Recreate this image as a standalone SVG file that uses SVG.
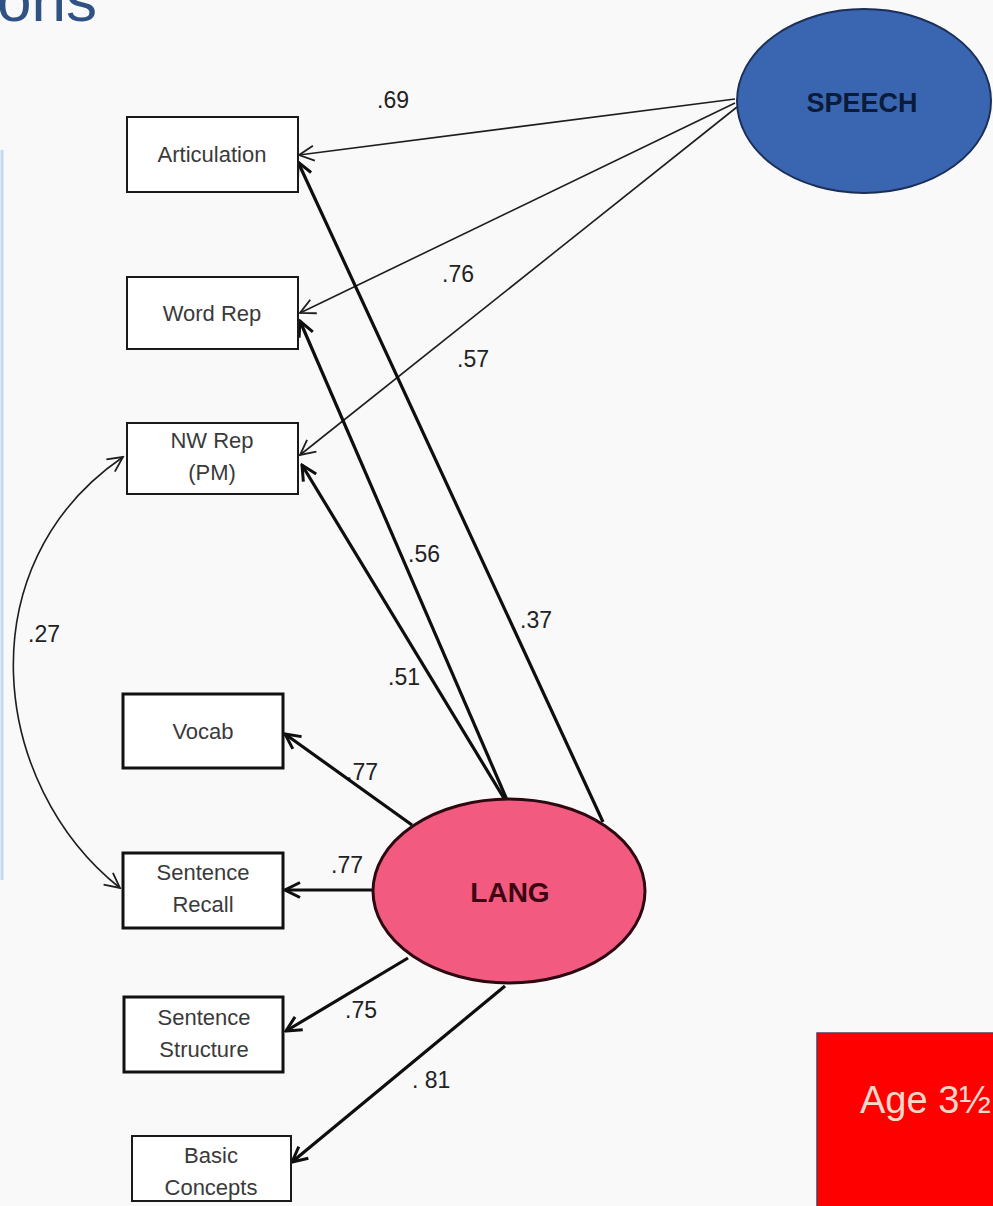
<svg xmlns="http://www.w3.org/2000/svg" width="993" height="1206" viewBox="0 0 993 1206">
  <style>
    .box { fill: #ffffff; stroke: #1a1a1a; stroke-width: 2; }
    .boxb { fill: #ffffff; stroke: #111111; stroke-width: 3; }
    .btxt { font-family: "Liberation Sans", Arial, sans-serif; font-size: 22px; fill: #3a3a3a; text-anchor: middle; }
    .lbl { font-family: "Liberation Sans", Arial, sans-serif; font-size: 23px; fill: #222222; }
    .thin { fill: none; stroke: #1e1e1e; stroke-width: 1.6; }
    .thick { fill: none; stroke: #0e0e0e; stroke-width: 3.2; }
  </style>
  <defs>
    <marker id="arrThin" markerUnits="userSpaceOnUse" viewBox="-18 -10 20 20" refX="0" refY="0" markerWidth="20" markerHeight="20" orient="auto-start-reverse">
      <path d="M -15 -7.5 L 0 0 L -15 7.5" fill="none" stroke="#1e1e1e" stroke-width="1.8"/>
    </marker>
    <marker id="arrThick" markerUnits="userSpaceOnUse" viewBox="-18 -10 20 20" refX="0" refY="0" markerWidth="20" markerHeight="20" orient="auto">
      <path d="M -15 -7.5 L 0 0 L -15 7.5" fill="none" stroke="#0e0e0e" stroke-width="3"/>
    </marker>
  </defs>

  <rect x="0" y="0" width="993" height="1206" fill="#f9f9f9"/>

  <g id="title">
    <text x="-3" y="21" font-family="'Liberation Sans', Arial, sans-serif" font-size="62" fill="#2f5183">ons</text>
  </g>
  <line x1="2" y1="150" x2="2" y2="880" stroke="#c4d8f0" stroke-width="3"/>

  <g id="labels">
    <text class="lbl" x="377" y="108">.69</text>
    <text class="lbl" x="442" y="282">.76</text>
    <text class="lbl" x="457" y="367">.57</text>
    <text class="lbl" x="408" y="562">.56</text>
    <text class="lbl" x="520" y="628">.37</text>
    <text class="lbl" x="388" y="685">.51</text>
    <text class="lbl" x="346" y="780">.77</text>
    <text class="lbl" x="331" y="873">.77</text>
    <text class="lbl" x="345" y="1018">.75</text>
    <text class="lbl" x="412" y="1088">. 81</text>
    <text class="lbl" x="28" y="642">.27</text>
  </g>

  <g id="connectors">
    <path class="thin" d="M 735 99 L 299 155" marker-end="url(#arrThin)"/>
    <path class="thin" d="M 735 103 L 300 313" marker-end="url(#arrThin)"/>
    <path class="thin" d="M 737 107 L 300 455" marker-end="url(#arrThin)"/>
    <path class="thick" d="M 603 822 L 298 162" marker-end="url(#arrThick)"/>
    <path class="thick" d="M 507 800 L 300 321" marker-end="url(#arrThick)"/>
    <path class="thick" d="M 505 800 L 302 465" marker-end="url(#arrThick)"/>
    <path class="thick" d="M 412 825 L 285 734" marker-end="url(#arrThick)"/>
    <path class="thick" d="M 374 890 L 285 890" marker-end="url(#arrThick)"/>
    <path class="thick" d="M 408 958 L 286 1031" marker-end="url(#arrThick)"/>
    <path class="thick" d="M 505 986 L 292 1162" marker-end="url(#arrThick)"/>
    <path class="thin" d="M 123 457 C -35 565 -10 785 120 888" marker-start="url(#arrThin)" marker-end="url(#arrThin)"/>
  </g>

  <g id="node-articulation">
    <rect class="box" x="127" y="117" width="171" height="75"/>
    <text class="btxt" x="212" y="162">Articulation</text>
  </g>
  <g id="node-wordrep">
    <rect class="box" x="127" y="277" width="171" height="72"/>
    <text class="btxt" x="212" y="321">Word Rep</text>
  </g>
  <g id="node-nwrep">
    <rect class="box" x="127" y="423" width="171" height="71"/>
    <text class="btxt" x="212" y="448">NW Rep</text>
    <text class="btxt" x="212" y="480">(PM)</text>
  </g>
  <g id="node-vocab">
    <rect class="boxb" x="123" y="694" width="160" height="74"/>
    <text class="btxt" x="203" y="739">Vocab</text>
  </g>
  <g id="node-sentrecall">
    <rect class="boxb" x="123" y="853" width="160" height="75"/>
    <text class="btxt" x="203" y="880">Sentence</text>
    <text class="btxt" x="203" y="912">Recall</text>
  </g>
  <g id="node-sentstruct">
    <rect class="boxb" x="124" y="997" width="159" height="75"/>
    <text class="btxt" x="204" y="1025">Sentence</text>
    <text class="btxt" x="204" y="1057">Structure</text>
  </g>
  <g id="node-basic">
    <rect class="box" x="132" y="1136" width="159" height="65"/>
    <text class="btxt" x="211" y="1163">Basic</text>
    <text class="btxt" x="211" y="1195">Concepts</text>
  </g>

  <g id="node-speech">
    <ellipse cx="864" cy="101" rx="127" ry="92" fill="#3a66b1" stroke="#1b2f57" stroke-width="2"/>
    <text x="862" y="112" font-family="'Liberation Sans', Arial, sans-serif" font-size="27" font-weight="bold" fill="#0b1b3a" text-anchor="middle">SPEECH</text>
  </g>
  <g id="node-lang">
    <ellipse cx="509" cy="891" rx="136" ry="92" fill="#f25a80" stroke="#2e0810" stroke-width="3"/>
    <text x="510" y="902" font-family="'Liberation Sans', Arial, sans-serif" font-size="28" font-weight="bold" fill="#3d0512" text-anchor="middle">LANG</text>
  </g>

  <g id="age-box">
    <rect x="817" y="1033" width="180" height="180" fill="#fe0000" stroke="#5a3a55" stroke-width="1.5"/>
    <text x="860" y="1113" font-family="'Liberation Sans', Arial, sans-serif" font-size="38" fill="#f8d8cc">Age 3½</text>
  </g>
</svg>
